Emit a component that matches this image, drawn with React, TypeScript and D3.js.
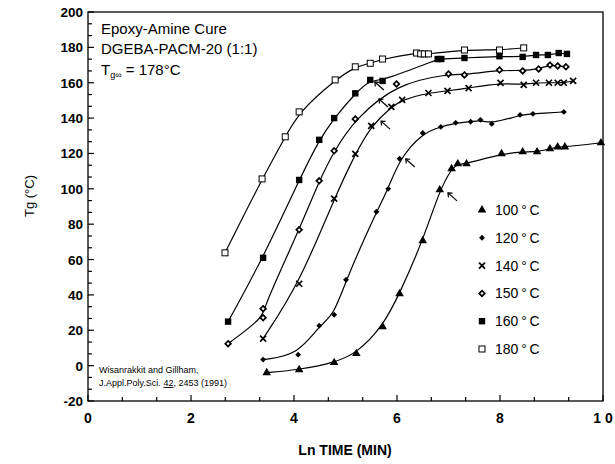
import React from "react";
import * as d3 from "d3";

// ---- data (x = ln time [min], y = Tg [°C]) ----
const X_TICKS = [0, 2, 4, 6, 8, 10];
const X_TICK_LABELS = ["0", "2", "4", "6", "8", "1 0"];
const Y_TICKS = [-20, 0, 20, 40, 60, 80, 100, 120, 140, 160, 180, 200];

const T100: [number, number][] = [
  [3.47, -4], [4.10, -2.3], [4.78, 1.7], [5.21, 6.8], [5.72, 22], [6.05, 40.7],
  [6.50, 70.6], [6.83, 99.4], [7.06, 111.3], [7.18, 114.1], [7.35, 114.1],
  [8.03, 119.8], [8.44, 120.9], [8.72, 120.9], [8.97, 122.6], [9.12, 123.7],
  [9.26, 123.7], [9.96, 126],
];
const T120: [number, number][] = [
  [3.40, 3.4], [4.08, 6.2], [4.49, 22.6], [4.78, 28.8], [5.01, 48.6], [5.60, 87],
  [5.83, 100], [6.05, 117], [6.50, 131.6], [6.85, 135], [7.14, 137.3],
  [7.43, 137.9], [7.62, 139], [7.84, 136.7], [8.39, 141.8], [8.64, 142.4], [9.24, 143.5],
];
const T140: [number, number][] = [
  [3.40, 15.3], [4.10, 46.3], [4.78, 94.4], [5.19, 119.8], [5.50, 135.6],
  [5.89, 146.3], [6.10, 150.3], [6.61, 154.2], [6.98, 155.4], [7.39, 157],
  [8.01, 159.9], [8.46, 158.8], [8.70, 160], [8.95, 160], [9.12, 160], [9.24, 160], [9.42, 161],
];
const T150: [number, number][] = [
  [2.72, 12.4], [3.40, 27.1], [3.40, 32.2], [4.10, 76.8], [4.49, 104.5], [4.78, 121.5],
  [5.19, 139.5], [5.99, 159.3], [7.0, 165], [7.31, 164.4], [7.99, 167.2],
  [8.44, 166.7], [8.75, 167.8], [8.97, 170], [9.12, 169.5], [9.28, 169],
];
const T160: [number, number][] = [
  [2.72, 24.9], [3.40, 61], [4.10, 105], [4.49, 127.7], [4.78, 140], [5.19, 154],
  [5.48, 161.6], [5.72, 161], [6.79, 173.4], [6.86, 173.4], [7.31, 174],
  [7.99, 175], [8.44, 174.6], [8.70, 175.7], [8.93, 175.7], [9.14, 176.8], [9.30, 176.3],
];
const T180: [number, number][] = [
  [2.66, 63.8], [3.38, 105.6], [3.83, 129.4], [4.10, 143.5], [4.80, 161.6],
  [5.19, 169], [5.48, 171], [5.72, 173.4], [6.38, 176.8], [6.46, 176.3],
  [6.53, 176.3], [6.61, 176.3], [7.31, 178.5], [7.99, 178.5], [8.46, 179.7],
];

const SERIES_NAMES = ["100", "120", "140", "150", "160", "180"];
const SERIES_KINDS = ["triangle", "dot", "cross", "diamond", "fsquare", "osquare"];
const SERIES_DATA = [T100, T120, T140, T150, T160, T180];

const ARROW_TIPS: [number, number][] = [
  [5.57, 160.4], [5.65, 150.8], [5.69, 138.3], [6.17, 116.9], [6.99, 97.7],
];

// ---- layout ----
const W = 615, H = 464;
const L = 88, R = 603, T = 12, B = 401;
const FONT = "'Liberation Sans', Arial, Helvetica, sans-serif";

const x = d3.scaleLinear().domain([0, 10]).range([L, R]);
const y = d3.scaleLinear().domain([-20, 200]).range([B, T]);

function Marker({ kind, cx, cy }: { kind: string; cx: number; cy: number }) {
  switch (kind) {
    case "triangle":
      return <path d={d3.symbol(d3.symbolTriangle, 32)()!} transform={`translate(${cx},${cy})`} fill="#000" />;
    case "dot":
      return <path d={d3.symbol(d3.symbolDiamond2, 22)()!} transform={`translate(${cx},${cy})`} fill="#000" />;
    case "cross":
      return (
        <g transform={`translate(${cx},${cy})`} stroke="#000" strokeWidth={1.7}>
          <line x1={-3} y1={-3} x2={3} y2={3} />
          <line x1={-3} y1={3} x2={3} y2={-3} />
        </g>
      );
    case "diamond":
      return <path d={d3.symbol(d3.symbolDiamond2, 20)()!} transform={`translate(${cx},${cy})`} fill="#fff" stroke="#000" strokeWidth={1.7} />;
    case "fsquare":
      return <rect x={cx - 3.2} y={cy - 3.2} width={6.4} height={6.4} fill="#000" />;
    default:
      return <rect x={cx - 3} y={cy - 3} width={6} height={6} fill="#fff" stroke="#000" strokeWidth={1} />;
  }
}

export default function App() {
  const line = d3
    .line<[number, number]>()
    .x((d) => x(d[0]))
    .y((d) => y(d[1]))
    .curve(d3.curveBasis);

  const xMinorTicks = d3.range(0, 16).map((i) => (i * 2) / 3);
  const yMinorTicks = d3.range(0, 34).map((i) => -20 + (i * 20) / 3);

  const legendRows = SERIES_NAMES.map((n, i) => ({ n, kind: SERIES_KINDS[i], yy: 210 + i * 27.8 }));

  return (
    <svg width={W} height={H} style={{ position: "absolute", left: 0, top: 0, background: "#fff" }} fontFamily={FONT}>
      <rect x={0} y={0} width={W} height={H} fill="#fff" />
      {/* frame */}
      <rect x={L} y={T} width={R - L} height={B - T} fill="none" stroke="#000" strokeWidth={1.3} />
      {/* ticks */}
      {xMinorTicks.map((t, i) => (
        <line key={"xm" + i} x1={x(t)} x2={x(t)} y1={B} y2={B - (i % 3 === 0 ? 6 : 4)} stroke="#000" strokeWidth={1.2} />
      ))}
      {yMinorTicks.map((t, i) => (
        <line key={"ym" + i} y1={y(t)} y2={y(t)} x1={L} x2={L + (i % 3 === 0 ? 6 : 4)} stroke="#000" strokeWidth={1.2} />
      ))}
      {X_TICKS.map((t, i) => (
        <text key={"xl" + i} x={x(t)} y={B + 22} textAnchor="middle" fontWeight="bold" fontSize={14}>
          {X_TICK_LABELS[i]}
        </text>
      ))}
      {Y_TICKS.map((t) => (
        <text key={"yl" + t} x={L - 5} y={y(t) + 5} textAnchor="end" fontWeight="bold" fontSize={13.5}>
          {t}
        </text>
      ))}
      <text x={345} y={455} textAnchor="middle" fontWeight="bold" fontSize={14}>Ln TIME (MIN)</text>
      <text transform={`translate(34,196) rotate(-90)`} textAnchor="middle" fontSize={13}>Tg (°C)</text>

      {/* curves */}
      {SERIES_DATA.map((s, i) => (
        <path key={"c" + i} d={line([...s].sort((a, b) => a[0] - b[0]))!} fill="none" stroke="#000" strokeWidth={1.2} />
      ))}
      {SERIES_DATA.map((s, i) =>
        s.map((d, j) => <Marker key={`m${i}-${j}`} kind={SERIES_KINDS[i]} cx={x(d[0])} cy={y(d[1])} />)
      )}

      {/* arrows */}
      {ARROW_TIPS.map((d, i) => {
        const tx = x(d[0]), ty = y(d[1]);
        return (
          <g key={"a" + i} stroke="#000" strokeWidth={1.2} fill="none">
            <line x1={tx} y1={ty} x2={tx + 9} y2={ty + 8} />
            <path d={`M${tx + 4.5},${ty + 0.3} L${tx},${ty} L${tx + 0.5},${ty + 4.5}`} />
          </g>
        );
      })}

      {/* annotation */}
      <text x={101} y={34} fontSize={15}>Epoxy-Amine Cure</text>
      <text x={101} y={54} fontSize={15}>DGEBA-PACM-20 (1:1)</text>
      <text x={101} y={75} fontSize={15}>
        T<tspan fontSize={9} dy={3}>g∞</tspan>
        <tspan dy={-3}> = 178°C</tspan>
      </text>

      {/* legend */}
      {legendRows.map((r) => (
        <g key={"lg" + r.n}>
          <Marker kind={r.kind} cx={482} cy={r.yy} />
          <text x={495} y={r.yy + 5} fontSize={14}>{r.n}{"\u2009°\u2009C"}</text>
        </g>
      ))}

      {/* citation */}
      <text x={99} y={373} fontSize={9}>Wisanrakkit and Gillham,</text>
      <text x={99} y={386} fontSize={9}>
        J.Appl.Poly.Sci.{"  "}<tspan textDecoration="underline">42</tspan>, 2453 (1991)
      </text>
    </svg>
  );
}
